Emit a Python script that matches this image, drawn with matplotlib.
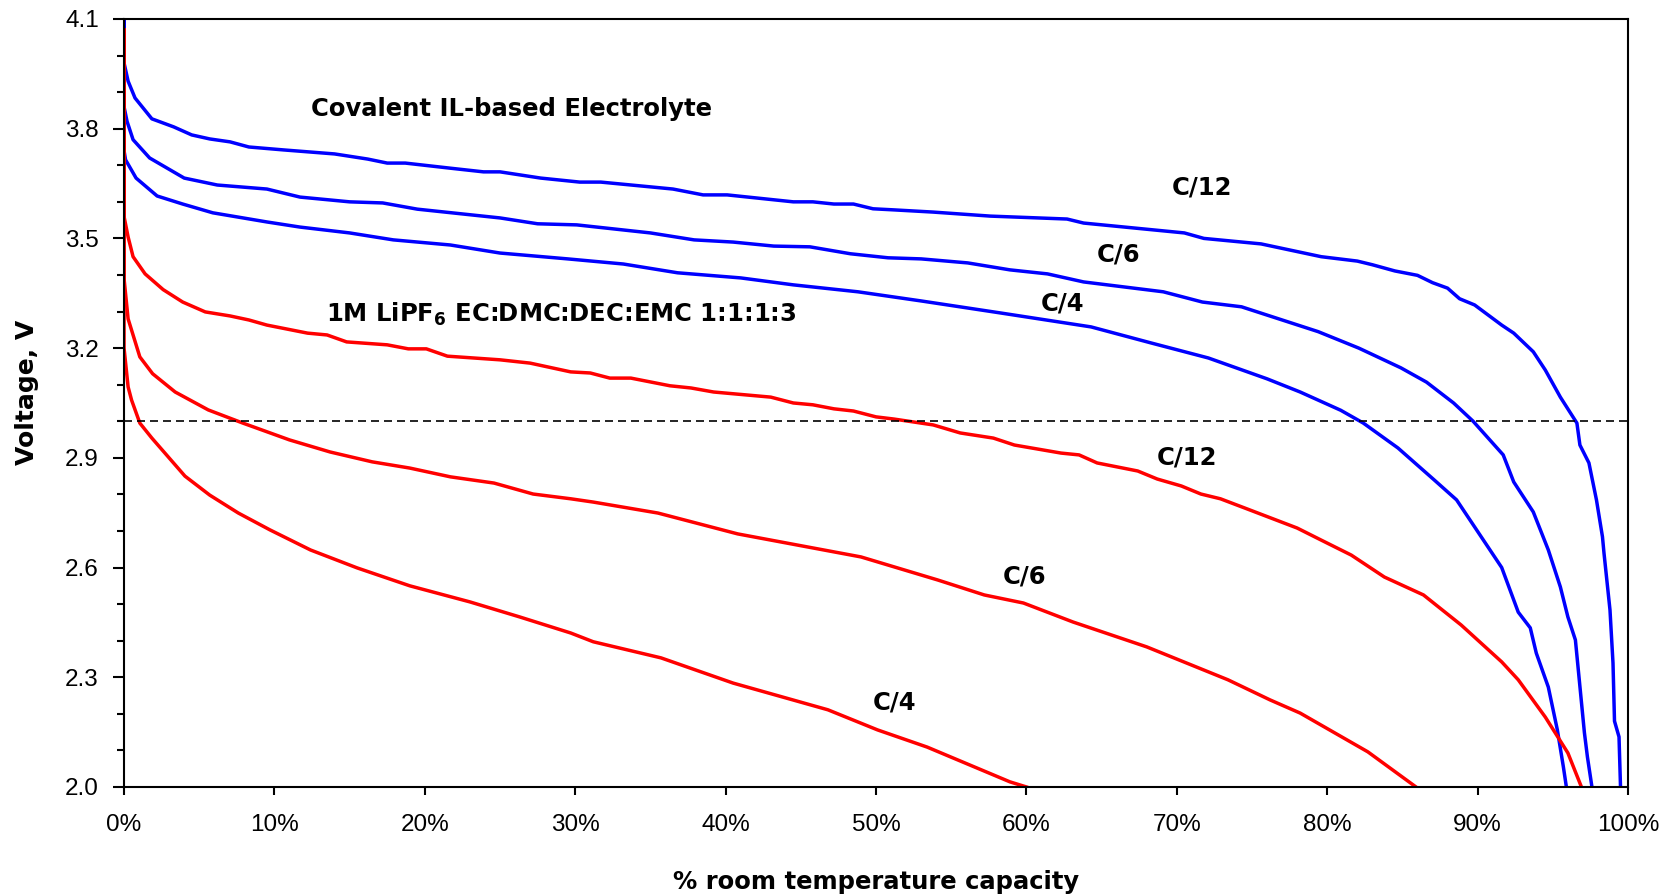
import matplotlib.pyplot as plt
from matplotlib.ticker import MultipleLocator, FuncFormatter

plt.rcParams['font.family'] = ['Liberation Sans', 'DejaVu Sans']

# blue: covalent IL-based electrolyte
il_c12_x = [0, 0, 0.27, 0.73, 1.85, 3.3, 4.5, 5.7, 7.05, 8.3, 10.6, 14.0, 16.2, 17.5, 18.7, 21.7,
            23.9, 25.0, 27.7, 30.3, 31.7, 36.5, 38.5, 40.1, 44.5, 45.8, 47.2, 48.5, 49.8, 51.2,
            53.8, 57.6, 62.7, 63.8, 70.5, 71.8, 75.6, 79.6, 82.0, 83.0, 84.5, 86.0, 87.0, 88.0,
            88.8, 89.8, 91.6, 92.4, 93.7, 94.5, 95.5, 96.6, 96.8, 97.4, 97.9, 98.3, 98.4, 98.8,
            99.0, 99.1, 99.4, 99.5]
il_c12_v = [4.10, 3.98, 3.93, 3.884, 3.827, 3.805, 3.783, 3.772, 3.764, 3.75, 3.742, 3.731, 3.717,
            3.706, 3.706, 3.692, 3.682, 3.682, 3.665, 3.654, 3.654, 3.635, 3.619, 3.619, 3.60,
            3.60, 3.594, 3.594, 3.581, 3.578, 3.572, 3.561, 3.553, 3.542, 3.515, 3.50, 3.485,
            3.45, 3.438, 3.428, 3.411, 3.399, 3.379, 3.364, 3.335, 3.318, 3.263, 3.241, 3.19,
            3.14, 3.066, 2.995, 2.935, 2.886, 2.785, 2.684, 2.64, 2.484, 2.339, 2.18, 2.137, 2.0]

il_c6_x = [0, 0, 0.2, 0.6, 1.7, 4.0, 6.2, 9.5, 11.7, 15.0, 17.2, 19.5, 25.0, 27.5, 30.1, 35.0,
           37.9, 40.5, 43.2, 45.6, 48.3, 50.8, 53.0, 56.1, 58.9, 61.4, 63.8, 69.1, 71.7, 74.3,
           79.4, 82.1, 84.9, 86.6, 88.4, 89.7, 91.7, 92.4, 93.7, 94.7, 95.5, 96.0, 96.5, 97.1,
           97.3, 97.6]
il_c6_v = [4.10, 3.86, 3.82, 3.77, 3.72, 3.665, 3.646, 3.635, 3.613, 3.60, 3.597, 3.58, 3.556,
           3.54, 3.537, 3.515, 3.496, 3.49, 3.479, 3.477, 3.458, 3.447, 3.444, 3.433, 3.414,
           3.403, 3.381, 3.354, 3.326, 3.313, 3.245, 3.20, 3.146, 3.107, 3.05, 3.0, 2.908,
           2.834, 2.752, 2.648, 2.547, 2.465, 2.402, 2.148, 2.082, 2.0]

il_c4_x = [0, 0, 0.1, 0.8, 2.2, 3.9, 5.9, 9.5, 11.7, 15.0, 17.9, 21.7, 25.0, 29.5, 33.2, 36.8,
           41.0, 44.5, 48.8, 53.0, 58.3, 64.3, 68.3, 72.1, 76.0, 78.2, 80.9, 82.4, 84.7, 87.1,
           88.6, 89.8, 91.6, 92.7, 93.5, 93.9, 94.7, 95.3, 95.7, 95.9]
il_c4_v = [4.10, 3.74, 3.715, 3.665, 3.616, 3.594, 3.57, 3.545, 3.531, 3.515, 3.496, 3.482, 3.46,
           3.444, 3.43, 3.406, 3.392, 3.373, 3.354, 3.329, 3.296, 3.258, 3.214, 3.173, 3.116,
           3.08, 3.03, 2.995, 2.927, 2.84, 2.785, 2.711, 2.60, 2.478, 2.435, 2.366, 2.273,
           2.156, 2.055, 2.0]

# red: 1M LiPF6 EC:DMC:DEC:EMC 1:1:1:3
lp_c12_x = [0, 0, 0.27, 0.6, 1.4, 2.6, 3.9, 5.4, 7.05, 8.3, 9.5, 12.2, 13.5, 14.8, 17.5, 18.9,
            20.1, 21.5, 25.0, 27.0, 29.7, 31.0, 32.3, 33.7, 36.3, 37.7, 39.2, 43.0, 44.5, 45.8,
            47.2, 48.5, 50.0, 51.2, 53.8, 55.6, 57.8, 59.2, 62.3, 63.5, 64.7, 67.4, 68.7, 70.3,
            71.6, 72.9, 74.5, 78.0, 79.6, 81.6, 83.8, 86.4, 88.9, 91.6, 92.7, 94.5, 96.0, 96.9]
lp_c12_v = [4.07, 3.56, 3.504, 3.45, 3.403, 3.36, 3.326, 3.299, 3.288, 3.277, 3.263, 3.241, 3.236,
            3.217, 3.209, 3.198, 3.198, 3.178, 3.168, 3.159, 3.135, 3.132, 3.118, 3.118, 3.097,
            3.091, 3.08, 3.066, 3.05, 3.045, 3.034, 3.028, 3.012, 3.006, 2.99, 2.968, 2.954,
            2.935, 2.913, 2.908, 2.886, 2.864, 2.842, 2.823, 2.801, 2.788, 2.763, 2.708, 2.675,
            2.634, 2.574, 2.525, 2.443, 2.342, 2.293, 2.191, 2.093, 2.0]

lp_c6_x = [0, 0, 0.27, 1.05, 1.9, 3.4, 5.6, 7.9, 11.0, 13.7, 16.5, 19.0, 21.7, 24.6, 27.2, 29.7,
           31.2, 35.5, 40.8, 49.0, 54.1, 57.2, 59.8, 63.1, 68.0, 73.4, 76.2, 78.2, 82.7, 85.9]
lp_c6_v = [4.07, 3.39, 3.28, 3.176, 3.13, 3.08, 3.031, 2.995, 2.949, 2.916, 2.889, 2.872, 2.848,
           2.831, 2.801, 2.788, 2.779, 2.749, 2.692, 2.629, 2.566, 2.525, 2.503, 2.451, 2.383,
           2.293, 2.238, 2.202, 2.096, 2.0]

lp_c4_x = [0, 0, 0.27, 0.5, 1.05, 1.85, 4.05, 5.7, 7.6, 9.7, 12.4, 15.5, 19.0, 23.0, 26.3, 29.7,
           31.2, 35.7, 40.5, 46.8, 50.1, 53.4, 58.9, 60.0]
lp_c4_v = [4.07, 3.2, 3.094, 3.058, 2.995, 2.954, 2.85, 2.798, 2.749, 2.703, 2.648, 2.599, 2.55,
           2.506, 2.465, 2.421, 2.397, 2.353, 2.284, 2.211, 2.156, 2.109, 2.014, 2.0]

cutoff_v = 3.0
volt_ticks = [2.0, 2.3, 2.6, 2.9, 3.2, 3.5, 3.8, 4.1]

fig = plt.figure(figsize=(16.65, 8.96), dpi=100)
ax = fig.add_axes([0.0745, 0.1217, 0.9033, 0.8571])

for xx, yy in [(il_c12_x, il_c12_v), (il_c6_x, il_c6_v), (il_c4_x, il_c4_v)]:
    ax.plot(xx, yy, color='#0000ff', lw=2.5, solid_joinstyle='round')
for xx, yy in [(lp_c12_x, lp_c12_v), (lp_c6_x, lp_c6_v), (lp_c4_x, lp_c4_v)]:
    ax.plot(xx, yy, color='#ff0000', lw=2.5, solid_joinstyle='round')

ax.plot([0, 100.2], [cutoff_v, cutoff_v], color='black', lw=1.2, dashes=(4.8, 3), clip_on=False)

ax.set_xlim(0, 100)
ax.set_ylim(2.0, 4.1)
ax.xaxis.set_major_locator(MultipleLocator(10))
ax.xaxis.set_major_formatter(FuncFormatter(lambda v, p: '%d%%' % round(v)))
ax.set_yticks(volt_ticks)
ax.yaxis.set_minor_locator(MultipleLocator(0.1))
ax.yaxis.set_major_formatter(FuncFormatter(lambda v, p: '%.1f' % v))

for s in ax.spines.values():
    s.set_linewidth(1.5)
ax.tick_params(axis='x', which='major', direction='out', length=6, width=1.5, pad=13.5, labelsize=17.5)
ax.tick_params(axis='y', which='major', direction='out', length=7.7, width=1.5, pad=10.5, labelsize=17.5)
ax.tick_params(axis='y', which='minor', direction='out', length=4.8, width=1.5)

bold = dict(family='DejaVu Sans', fontweight='bold')
ax.set_xlabel('% room temperature capacity', fontsize=17.5, va='baseline', **bold)
ax.xaxis.set_label_coords(0.5, -0.133)
ax.set_ylabel('Voltage, V', fontsize=18, va='baseline', **bold)
ax.yaxis.set_label_coords(-0.0598, 0.514)

lab = dict(fontsize=17.5, ha='center', va='baseline', **bold)
ax.text(12.4, 3.835, 'Covalent IL-based Electrolyte', fontsize=17.5, va='baseline', **bold)
ax.text(13.4, 3.272, r'1M LiPF$_\mathbf{6}$ EC:DMC:DEC:EMC 1:1:1:3', fontsize=17.5, va='baseline', **bold)
ax.text(71.7, 3.619, 'C/12', **lab)
ax.text(66.1, 3.436, 'C/6', **lab)
ax.text(62.4, 3.304, 'C/4', **lab)
ax.text(70.7, 2.883, 'C/12', **lab)
ax.text(59.9, 2.555, 'C/6', **lab)
ax.text(51.2, 2.212, 'C/4', **lab)

fig.savefig('out.png', dpi=100)
